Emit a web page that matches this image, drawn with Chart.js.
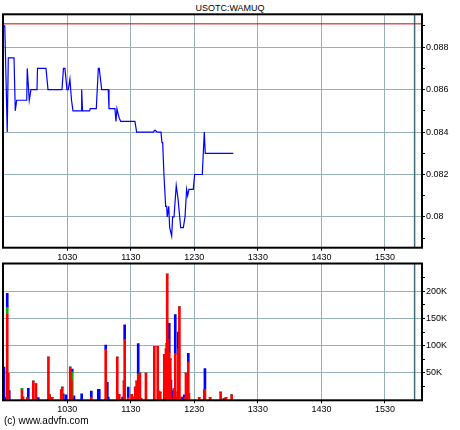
<!DOCTYPE html>
<html>
<head>
<meta charset="utf-8">
<script src="https://cdn.jsdelivr.net/npm/chart.js@4"></script>
<style>
  body { margin: 0; background: #fff; width: 460px; height: 430px; position: relative; overflow: hidden; font-family: "Liberation Sans", Arial, sans-serif; }
  #title { position: absolute; left: 0; top: 3px; width: 460px; text-align: center; font-size: 9px; line-height: 10px; color: #000; }
  #copy { position: absolute; left: 4px; top: 415px; font-size: 10px; line-height: 12px; color: #000; }
  #price { position: absolute; left: 0; top: 0; }
  #volume { position: absolute; left: 0; top: 262px; }
</style>
</head>
<body>
<div id="title">USOTC:WAMUQ</div>
<canvas id="price" width="460" height="262"></canvas>
<canvas id="volume" width="460" height="168"></canvas>
<div id="copy">(c) www.advfn.com</div>
<script>
// time is minutes since midnight
const xMin = 569.3;
const xMax = 965;
const sessionEnd = 958;
const hourTicks = [630, 690, 750, 810, 870, 930];
const hourLabels = ["1030", "1130", "1230", "1330", "1430", "1530"];

const prevClose = 0.0891;
const priceTimes = [570, 571, 573.3, 574.3, 579.7, 580.9, 582.2, 591.7, 592.2, 592.9, 594.1, 595.7, 601.4, 601.9, 609.9, 611.8,
  625, 626.4, 627.8, 629.7, 631, 632.5, 634, 635.4, 643.2, 643.6, 644.4, 651.1, 651.6, 657.4, 659.3, 660.2, 662.5, 668.7,
  669.4, 675, 676, 676.9, 678.8, 680.4, 693.9, 695.5, 711.4, 712.3, 713.3, 714.7, 718.5, 719.4, 720.1, 721.3, 722.9, 723.9,
  724.4, 725.8, 726.7, 728.6, 729.5, 730.8, 732.9, 734.5, 737.1, 739.6, 741.2, 742.7, 743.7, 744.9, 749, 750.3, 757.5,
  759.4, 760.3, 786.8];
const priceValues = [0.089, 0.089, 0.084, 0.0875, 0.0875, 0.085, 0.0855, 0.0855, 0.087, 0.087, 0.0855, 0.086, 0.086, 0.087, 0.087, 0.086,
  0.086, 0.087, 0.087, 0.086, 0.086, 0.0865, 0.0855, 0.085, 0.085, 0.086, 0.085, 0.085, 0.0851, 0.0851, 0.087, 0.087, 0.086, 0.086,
  0.0851, 0.0851, 0.0845, 0.0851, 0.0847, 0.0845, 0.0845, 0.084, 0.084, 0.08408, 0.08408, 0.084, 0.084, 0.0835, 0.0835, 0.082, 0.0805, 0.0805,
  0.08, 0.0805, 0.0795, 0.0791, 0.08, 0.08, 0.08148, 0.0809, 0.0795, 0.0795, 0.08, 0.0813, 0.081, 0.0813, 0.0813, 0.082, 0.082,
  0.084, 0.083, 0.083];
const priceTicks = [0.079, 0.080, 0.081, 0.082, 0.083, 0.084, 0.085, 0.086, 0.087, 0.088, 0.089];
const priceTickLabels = ["", "0.08", "", "0.082", "", "0.084", "", "0.086", "", "0.088", ""];

const volTimes = [570.2, 572.1, 573.3, 574.3, 575.2, 587.2, 588.2, 592.2, 593.2, 597.9, 600.4, 602.6, 612.2, 613.4, 615.8,
  624.3, 625.3, 626.2, 628.8, 632.8, 633.8, 634.7, 636.3, 643.6, 652.7, 659.3, 660.2, 666.3, 667.8, 668.7, 677.2, 678.2,
  679.1, 682.3, 683.5, 684.2, 687.6, 690.8, 692.3, 694.2, 695.5, 697, 698.6, 699.6, 704.3, 712.2, 715.4, 716, 717.8, 721.6,
  723.2, 723.9, 724.4, 725.4, 726.3, 727.3, 727.9, 729.2, 729.8, 730.8, 732, 733, 734.3, 734.9, 735.9, 736.8, 738.1, 740.5,
  741.1, 742.1, 742.7, 743.3, 744.3, 744.9, 754.6, 759.4, 760, 764.9, 774.8, 778, 779.9, 785.2];
const volRed = [0, 0, 158000, 49000, 0, 19000, 6000, 5000, 0, 35000, 30000, 0, 79000, 10000, 5000,
  19000, 24000, 0, 0, 61000, 37000, 5000, 0, 0, 5000, 0, 0, 93000, 0, 0, 79000, 11000,
  10000, 0, 35000, 111000, 5000, 11000, 6000, 24000, 35000, 46000, 50000, 3000, 50000, 99000, 99000, 17000, 15000, 84000,
  94000, 104000, 231000, 111000, 88000, 76000, 3000, 0, 3000, 21000, 85000, 5000, 15000, 94000, 171000, 5000, 0, 0,
  5000, 50000, 8000, 15000, 70000, 12000, 5000, 20000, 17000, 5000, 15000, 3000, 5000, 10000];
const volGreen = [0, 0, 12000, 0, 0, 3000, 0, 0, 0, 0, 0, 0, 0, 0, 0,
  0, 0, 0, 0, 0, 0, 47000, 0, 0, 0, 0, 0, 0, 0, 0, 0, 0,
  0, 0, 0, 0, 0, 0, 0, 0, 0, 2000, 0, 0, 0, 0, 0, 0, 0, 0,
  0, 0, 0, 0, 0, 0, 0, 0, 0, 0, 0, 0, 0, 0, 0, 0, 0, 0,
  0, 0, 0, 12000, 0, 0, 0, 0, 3000, 0, 0, 0, 0, 0];
const volBlue = [61000, 5000, 26000, 0, 18000, 0, 0, 0, 22000, 0, 0, 5000, 0, 0, 0,
  0, 0, 12000, 10000, 0, 0, 5000, 8000, 12000, 12000, 20000, 20000, 8000, 33000, 6000, 0, 0,
  0, 6000, 0, 27000, 19000, 0, 0, 0, 0, 56000, 0, 0, 0, 0, 0, 0, 0, 0,
  0, 0, 0, 16000, 53000, 0, 34000, 18000, 0, 0, 72000, 0, 0, 31000, 0, 0, 6000, 10000,
  0, 0, 33000, 0, 16000, 0, 0, 0, 38000, 0, 0, 0, 0, 0];
const volTicks = [25000, 50000, 75000, 100000, 125000, 150000, 175000, 200000, 225000];
const volTickLabels = ["", "50K", "", "100K", "", "150K", "", "200K", ""];

const gridColor = "#97b0b8";
const tickFont = { family: "Liberation Sans", size: 9 };

const frame = {
  id: "frame",
  beforeDatasetsDraw(chart) {
    const { ctx, chartArea: a, scales } = chart;
    const px = scales.x.getPixelForValue(sessionEnd);
    ctx.save();
    ctx.strokeStyle = "#3f6f75";
    ctx.lineWidth = 1.5;
    ctx.beginPath();
    ctx.moveTo(px, a.top);
    ctx.lineTo(px, a.bottom);
    ctx.stroke();
    ctx.restore();
  },
  afterDraw(chart) {
    const { ctx, chartArea: a } = chart;
    ctx.save();
    ctx.strokeStyle = "#000";
    ctx.lineWidth = 2;
    ctx.strokeRect(a.left, a.top, a.right - a.left, a.bottom - a.top);
    ctx.restore();
  }
};

function timeAxis(height) {
  return {
    type: "linear",
    min: xMin,
    max: xMax,
    offset: false,
    afterBuildTicks: s => { s.ticks = hourTicks.map(v => ({ value: v })); },
    afterFit: s => { s.height = height; s.paddingLeft = 0; s.paddingRight = 0; },
    grid: { color: gridColor, tickColor: "#000", tickLength: 3, offset: false },
    border: { display: false },
    ticks: { font: tickFont, color: "#000", padding: 1, maxRotation: 0, autoSkip: false, callback: (v, i) => hourLabels[i] }
  };
}

function rightAxis(min, max, ticks, labels, extra) {
  return Object.assign({
    position: "right",
    min: min,
    max: max,
    afterBuildTicks: s => { s.ticks = ticks.map(v => ({ value: v })); },
    afterFit: s => { s.width = 38; s.paddingTop = 0; s.paddingBottom = 0; },
    grid: { color: c => labels[c.index] ? gridColor : "rgba(0,0,0,0)", tickColor: "#000", tickLength: 3 },
    border: { display: false },
    ticks: { font: tickFont, color: "#000", padding: 1, callback: (v, i) => labels[i] }
  }, extra);
}

new Chart(document.getElementById("price"), {
  type: "line",
  data: {
    datasets: [
      {
        data: [{ x: xMin, y: prevClose }, { x: xMax, y: prevClose }],
        borderColor: "#d00000",
        borderWidth: 1,
        pointRadius: 0
      },
      {
        data: priceTimes.map((t, i) => ({ x: t, y: priceValues[i] })),
        borderColor: "#0000ff",
        borderWidth: 1.2,
        pointRadius: 0,
        tension: 0
      }
    ]
  },
  options: {
    responsive: false,
    animation: false,
    layout: { padding: { left: 3, top: 14.3, right: 0, bottom: 0 } },
    plugins: { legend: { display: false }, tooltip: { enabled: false } },
    scales: {
      x: timeAxis(14.3),
      y: rightAxis(0.07855, 0.08955, priceTicks, priceTickLabels, {})
    }
  },
  plugins: [frame]
});

function barSet(values, color) {
  return {
    data: volTimes.map((t, i) => ({ x: t, y: values[i] })),
    backgroundColor: color,
    borderWidth: 0,
    barThickness: 2
  };
}

new Chart(document.getElementById("volume"), {
  type: "bar",
  data: {
    datasets: [
      barSet(volRed, "#ff0000"),
      barSet(volGreen, "#00b000"),
      barSet(volBlue, "#0000ff")
    ]
  },
  options: {
    responsive: false,
    animation: false,
    layout: { padding: { left: 3, top: 1.5, right: 0, bottom: 0 } },
    plugins: { legend: { display: false }, tooltip: { enabled: false } },
    scales: {
      x: Object.assign(timeAxis(29.7), { stacked: true }),
      y: rightAxis(0, 250500, volTicks, volTickLabels, { stacked: true })
    }
  },
  plugins: [frame]
});
</script>
</body>
</html>
